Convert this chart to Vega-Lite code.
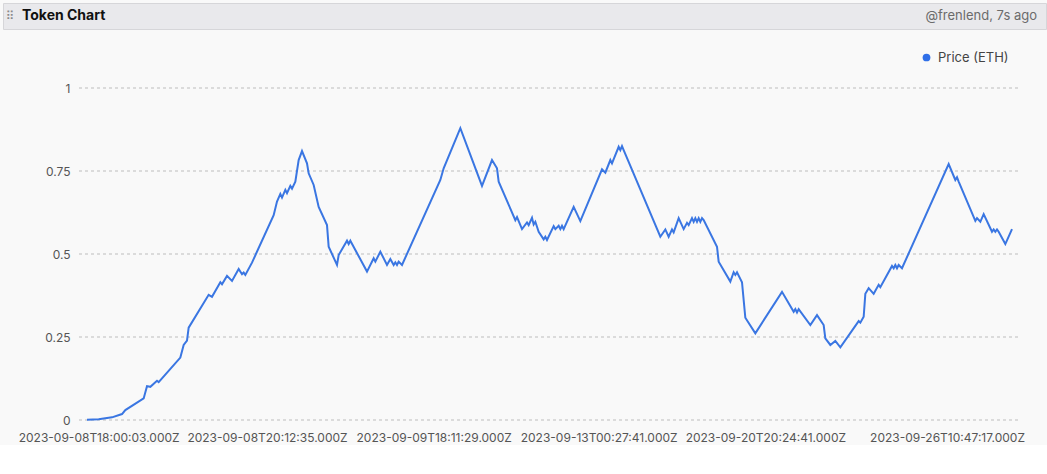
{
  "$schema": "https://vega.github.io/schema/vega-lite/v6.json",
  "description": "Token Chart: Price (ETH) per trade, Dune-style widget.",
  "background": "#f9f9f9",
  "padding": {"left": 2, "top": 2, "right": 2, "bottom": 2},
  "spacing": 21,
  "columns": 1,
  "align": "none",
  "resolve": {"legend": {"color": "independent"}, "scale": {"color": "independent"}},
  "config": {
    "font": "Inter",
    "view": {"stroke": null},
    "axis": {"grid": false, "domain": false, "ticks": false}
  },
  "concat": [
    {
      "width": 1043,
      "height": 26,
      "view": {"fill": "#e9e9ec", "stroke": "#d6d6d9"},
      "data": {
        "values": [
          {"pos": 0, "part": "grip", "label": "⠿"},
          {"pos": 0, "part": "title", "label": "Token Chart"},
          {"pos": 1, "part": "owner", "label": "@frenlend, 7s ago"}
        ]
      },
      "encoding": {
        "x": {"field": "pos", "type": "quantitative", "axis": null, "scale": {"domain": [0, 1]}},
        "text": {"field": "label"}
      },
      "layer": [
        {
          "transform": [{"filter": "datum.part == 'grip'"}],
          "mark": {"type": "text", "font": "DejaVu Sans", "fontSize": 12, "color": "#8a8a8a", "align": "center", "dx": 7, "baseline": "middle"}
        },
        {
          "transform": [{"filter": "datum.part == 'title'"}],
          "mark": {"type": "text", "fontSize": 14, "fontWeight": "bold", "color": "#111111", "align": "left", "dx": 19, "baseline": "middle"}
        },
        {
          "transform": [{"filter": "datum.part == 'owner'"}],
          "mark": {"type": "text", "fontSize": 13, "color": "#6b6b6b", "align": "right", "dx": -9, "baseline": "middle"}
        }
      ]
    },
    {
      "width": 1043,
      "height": 332,
      "encoding": {
        "x": {
          "type": "quantitative",
          "scale": {"domain": [-50.4, 575.4], "nice": false, "zero": false},
          "axis": {
            "title": null,
            "values": [7, 108, 208, 307, 407, 516],
            "labelFontSize": 12,
            "labelColor": "#555555",
            "labelPadding": 12,
            "labelFlush": false,
            "labelOverlap": false,
            "labelExpr": "datum.value == 7 ? '2023-09-08T18:00:03.000Z' : datum.value == 108 ? '2023-09-08T20:12:35.000Z' : datum.value == 208 ? '2023-09-09T18:11:29.000Z' : datum.value == 307 ? '2023-09-13T00:27:41.000Z' : datum.value == 407 ? '2023-09-20T20:24:41.000Z' : '2023-09-26T10:47:17.000Z'"
          }
        },
        "y": {
          "type": "quantitative",
          "scale": {"domain": [0, 1], "nice": false},
          "axis": {
            "title": null,
            "values": [0, 0.25, 0.5, 0.75, 1],
            "format": ".2~f",
            "offset": -76,
            "labelFontSize": 12,
            "labelColor": "#555555",
            "labelPadding": 9
          }
        }
      },
      "layer": [
        {
          "data": {"values": [{"level": 0}, {"level": 0.25}, {"level": 0.5}, {"level": 0.75}, {"level": 1}]},
          "mark": {"type": "rule", "color": "#bdbdbd", "strokeDash": [3, 3], "strokeWidth": 1},
          "encoding": {
            "x": {"datum": -4.8},
            "x2": {"datum": 560.4},
            "y": {"field": "level"}
          }
        },
        {
          "data": {
            "values": [
              {"n": 0, "price": 0.001}, {"n": 7, "price": 0.002}, {"n": 15, "price": 0.008},
              {"n": 21, "price": 0.018}, {"n": 23, "price": 0.030}, {"n": 34, "price": 0.065},
              {"n": 36, "price": 0.102}, {"n": 38, "price": 0.100}, {"n": 42, "price": 0.118},
              {"n": 43, "price": 0.114}, {"n": 56, "price": 0.188}, {"n": 58, "price": 0.226},
              {"n": 60, "price": 0.239}, {"n": 61, "price": 0.278}, {"n": 73, "price": 0.377},
              {"n": 75, "price": 0.371}, {"n": 80, "price": 0.415}, {"n": 81, "price": 0.409},
              {"n": 84, "price": 0.434}, {"n": 87, "price": 0.419}, {"n": 91, "price": 0.455},
              {"n": 93, "price": 0.439}, {"n": 94, "price": 0.444}, {"n": 95, "price": 0.437},
              {"n": 99, "price": 0.474}, {"n": 112, "price": 0.617}, {"n": 114, "price": 0.658},
              {"n": 116, "price": 0.681}, {"n": 117, "price": 0.670}, {"n": 119, "price": 0.693},
              {"n": 120, "price": 0.683}, {"n": 122, "price": 0.705}, {"n": 123, "price": 0.697},
              {"n": 125, "price": 0.718}, {"n": 127, "price": 0.783}, {"n": 129, "price": 0.810},
              {"n": 132, "price": 0.773}, {"n": 133, "price": 0.743}, {"n": 136, "price": 0.708},
              {"n": 139, "price": 0.642}, {"n": 144, "price": 0.587}, {"n": 145, "price": 0.522},
              {"n": 150, "price": 0.467}, {"n": 151, "price": 0.497}, {"n": 156, "price": 0.540},
              {"n": 157, "price": 0.530}, {"n": 158, "price": 0.540}, {"n": 168, "price": 0.447},
              {"n": 172, "price": 0.487}, {"n": 173, "price": 0.477}, {"n": 176, "price": 0.507},
              {"n": 180, "price": 0.467}, {"n": 182, "price": 0.485}, {"n": 184, "price": 0.467},
              {"n": 185, "price": 0.475}, {"n": 186, "price": 0.467}, {"n": 187, "price": 0.477},
              {"n": 189, "price": 0.467}, {"n": 212, "price": 0.723}, {"n": 214, "price": 0.758},
              {"n": 224, "price": 0.879}, {"n": 237, "price": 0.705}, {"n": 243, "price": 0.783},
              {"n": 246, "price": 0.758}, {"n": 247, "price": 0.718}, {"n": 257, "price": 0.602},
              {"n": 258, "price": 0.611}, {"n": 261, "price": 0.575}, {"n": 264, "price": 0.595},
              {"n": 265, "price": 0.587}, {"n": 267, "price": 0.609}, {"n": 268, "price": 0.589},
              {"n": 269, "price": 0.597}, {"n": 271, "price": 0.567}, {"n": 274, "price": 0.544},
              {"n": 275, "price": 0.552}, {"n": 276, "price": 0.542}, {"n": 280, "price": 0.584},
              {"n": 281, "price": 0.575}, {"n": 283, "price": 0.585}, {"n": 284, "price": 0.575},
              {"n": 285, "price": 0.585}, {"n": 286, "price": 0.575}, {"n": 292, "price": 0.642},
              {"n": 296, "price": 0.599}, {"n": 309, "price": 0.755}, {"n": 311, "price": 0.745},
              {"n": 314, "price": 0.783}, {"n": 315, "price": 0.773}, {"n": 319, "price": 0.823},
              {"n": 320, "price": 0.813}, {"n": 321, "price": 0.825}, {"n": 322, "price": 0.813},
              {"n": 344, "price": 0.552}, {"n": 347, "price": 0.574}, {"n": 349, "price": 0.552},
              {"n": 351, "price": 0.574}, {"n": 352, "price": 0.565}, {"n": 355, "price": 0.608},
              {"n": 358, "price": 0.575}, {"n": 360, "price": 0.594}, {"n": 361, "price": 0.587},
              {"n": 363, "price": 0.608}, {"n": 364, "price": 0.597}, {"n": 365, "price": 0.608},
              {"n": 366, "price": 0.597}, {"n": 367, "price": 0.608}, {"n": 368, "price": 0.597},
              {"n": 369, "price": 0.608}, {"n": 370, "price": 0.602}, {"n": 378, "price": 0.522},
              {"n": 379, "price": 0.477}, {"n": 386, "price": 0.417}, {"n": 388, "price": 0.445},
              {"n": 389, "price": 0.437}, {"n": 390, "price": 0.445}, {"n": 393, "price": 0.415},
              {"n": 395, "price": 0.308}, {"n": 401, "price": 0.261}, {"n": 417, "price": 0.386},
              {"n": 424, "price": 0.326}, {"n": 425, "price": 0.334}, {"n": 426, "price": 0.324},
              {"n": 427, "price": 0.334}, {"n": 434, "price": 0.286}, {"n": 438, "price": 0.316},
              {"n": 442, "price": 0.286}, {"n": 443, "price": 0.246}, {"n": 446, "price": 0.226},
              {"n": 449, "price": 0.238}, {"n": 452, "price": 0.219}, {"n": 463, "price": 0.298},
              {"n": 464, "price": 0.293}, {"n": 466, "price": 0.311}, {"n": 467, "price": 0.380},
              {"n": 469, "price": 0.397}, {"n": 472, "price": 0.380}, {"n": 475, "price": 0.407},
              {"n": 476, "price": 0.400}, {"n": 483, "price": 0.464}, {"n": 484, "price": 0.457},
              {"n": 485, "price": 0.467}, {"n": 486, "price": 0.457}, {"n": 487, "price": 0.467},
              {"n": 489, "price": 0.457}, {"n": 517, "price": 0.771}, {"n": 521, "price": 0.723},
              {"n": 522, "price": 0.731}, {"n": 523, "price": 0.718}, {"n": 533, "price": 0.600},
              {"n": 534, "price": 0.608}, {"n": 536, "price": 0.597}, {"n": 538, "price": 0.620},
              {"n": 543, "price": 0.567}, {"n": 544, "price": 0.574}, {"n": 545, "price": 0.567},
              {"n": 546, "price": 0.574}, {"n": 547, "price": 0.567}, {"n": 551, "price": 0.530},
              {"n": 555, "price": 0.575}
            ]
          },
          "mark": {"type": "line", "strokeWidth": 2, "interpolate": "linear"},
          "encoding": {
            "x": {"field": "n"},
            "y": {"field": "price"},
            "color": {
              "datum": "Price (ETH)",
              "scale": {"range": ["#3a76e2"]},
              "legend": {
                "title": null,
                "orient": "none",
                "legendX": 917,
                "legendY": -37,
                "padding": 0,
                "symbolType": "circle",
                "symbolSize": 60,
                "symbolFillColor": "#2f6fe8",
                "symbolStrokeWidth": 0,
                "labelFontSize": 13,
                "labelColor": "#444444",
                "labelOffset": 5
              }
            }
          }
        }
      ]
    }
  ]
}
